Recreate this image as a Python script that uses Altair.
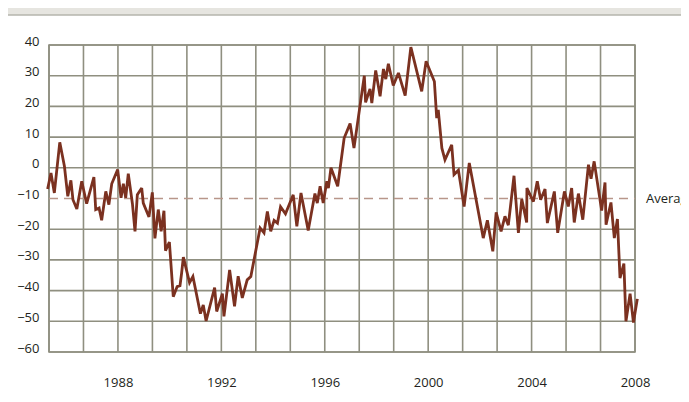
import altair as alt
import pandas as pd

# ---- data ----
years = [1985.28, 1985.41, 1985.54, 1985.75, 1985.93, 1986.06, 1986.18, 1986.26, 1986.41, 1986.60,
         1986.79, 1987.07, 1987.14, 1987.27, 1987.37, 1987.53, 1987.65, 1987.76, 1987.99, 1988.12,
         1988.21, 1988.30, 1988.40, 1988.56, 1988.66, 1988.75, 1988.92, 1988.98, 1989.20, 1989.33,
         1989.43, 1989.56, 1989.67, 1989.78, 1989.84, 1989.99, 1990.14, 1990.29, 1990.40, 1990.46,
         1990.53, 1990.77, 1990.90, 1991.19, 1991.30, 1991.41, 1991.74, 1991.82, 1992.04, 1992.10,
         1992.32, 1992.51, 1992.65, 1992.81, 1993.00, 1993.14, 1993.50, 1993.65, 1993.78, 1993.91,
         1994.04, 1994.17, 1994.29, 1994.48, 1994.78, 1994.92, 1995.08, 1995.36, 1995.62, 1995.71,
         1995.82, 1995.94, 1996.08, 1996.14, 1996.24, 1996.50, 1996.75, 1996.98, 1997.13, 1997.36,
         1997.53, 1997.58, 1997.75, 1997.82, 1997.97, 1998.14, 1998.27, 1998.36, 1998.46, 1998.65,
         1998.85, 1999.11, 1999.33, 1999.75, 1999.92, 2000.24, 2000.33, 2000.39, 2000.53, 2000.65,
         2000.91, 2001.00, 2001.17, 2001.39, 2001.59, 2002.13, 2002.29, 2002.50, 2002.63, 2002.82,
         2002.97, 2003.10, 2003.32, 2003.49, 2003.62, 2003.81, 2003.82, 2004.07, 2004.22, 2004.35,
         2004.52, 2004.61, 2004.88, 2005.01, 2005.27, 2005.42, 2005.55, 2005.65, 2005.81, 2005.98,
         2006.20, 2006.30, 2006.42, 2006.71, 2006.84, 2006.88, 2007.07, 2007.20, 2007.32, 2007.42,
         2007.57, 2007.65, 2007.81, 2007.94, 2008.09]
values = [-6.9, -1.7, -8.2, 8.3, 0.5, -9.3, -4.1, -10.4, -13.4, -4.4,
          -11.7, -3.0, -13.6, -13.1, -17.1, -7.7, -12.0, -5.2, -0.6, -9.8,
          -5.2, -9.8, -1.9, -11.7, -20.7, -8.8, -6.6, -11.5, -16.0, -8.0,
          -23.0, -13.6, -20.7, -14.0, -27.0, -24.2, -42.0, -38.7, -38.4, -34.5,
          -29.1, -37.4, -35.4, -47.5, -44.7, -49.9, -39.0, -46.8, -41.0, -48.4,
          -33.3, -45.1, -35.3, -42.4, -36.5, -35.4, -19.6, -21.2, -14.2, -20.7,
          -17.1, -18.0, -12.7, -15.0, -8.8, -19.1, -8.2, -20.4, -8.4, -11.5,
          -6.0, -11.5, -4.4, -6.6, 0.0, -6.0, 9.7, 14.4, 6.4, 20.0,
          30.0, 21.3, 25.7, 21.1, 31.7, 23.3, 32.2, 28.9, 33.9, 26.8,
          30.9, 23.5, 39.3, 24.9, 34.7, 28.1, 16.2, 18.9, 6.4, 2.6,
          7.5, -2.2, -0.8, -12.6, 1.6, -22.9, -17.1, -27.2, -14.5, -20.7,
          -15.8, -18.7, -2.6, -21.2, -10.2, -17.8, -6.6, -11.0, -4.4, -10.4,
          -6.9, -18.0, -7.7, -21.2, -7.7, -12.6, -6.6, -17.8, -8.4, -16.9,
          1.0, -3.6, 2.1, -13.9, -4.8, -18.5, -11.3, -22.9, -16.7, -35.9,
          -31.2, -50.0, -41.0, -50.4, -42.7]

average_value = -10
average_label = "Average"
x_tick_labels = [1988, 1992, 1996, 2000, 2004, 2008]
y_tick_labels = [-60, -50, -40, -30, -20, -10, 0, 10, 20, 30, 40]
x_grid = [1985 + 1 / 3 + k * 4 / 3 for k in range(18)]
y_grid = [-60, -50, -40, -30, -20, 0, 10, 20, 30, 40]
x_domain = [1985 + 1 / 3, 2008]
y_domain = [-60, 40]

W, H = 586, 307
PAD_L, PAD_T, PAD_R, PAD_B = 41, 37, 46, 42
FONT = "Open Sans"
GRID = "#8f8f80"
LINE = "#7b3120"

df = pd.DataFrame({"year": years, "value": values})
xs = alt.Scale(domain=x_domain, nice=False, zero=False)
ys = alt.Scale(domain=y_domain, nice=False, zero=False)
x_axis = alt.Axis(values=x_tick_labels, format="d", title=None, grid=False, domain=False,
                  ticks=False, labelPadding=24, labelFont=FONT, labelFontSize=13,
                  labelColor="#231f20", labelFlush=False)
y_axis = alt.Axis(values=y_tick_labels, title=None, grid=False, domain=False, ticks=False,
                  labelPadding=10, labelFont=FONT, labelFontSize=13, labelColor="#231f20",
                  labelOffset=-4, labelFlush=False)

# decoration: grey strip above the white panel
strip = alt.Chart(pd.DataFrame({"a": [0]})).mark_rect(color="#e6e5e0").encode(
    x=alt.value(-PAD_L), x2=alt.value(W + PAD_R), y=alt.value(-PAD_T), y2=alt.value(-30))
strip_border = alt.Chart(pd.DataFrame({"a": [0]})).mark_rule(color="#b4b4ac", strokeWidth=1.5).encode(
    x=alt.value(-PAD_L), x2=alt.value(W + PAD_R), y=alt.value(-30))

vgrid = alt.Chart(pd.DataFrame({"year": x_grid})).mark_rule(color=GRID, strokeWidth=1.6).encode(
    x=alt.X("year:Q", scale=xs, axis=x_axis), y=alt.value(0), y2=alt.value(H))
hgrid = alt.Chart(pd.DataFrame({"value": y_grid})).mark_rule(color=GRID, strokeWidth=1.6).encode(
    y=alt.Y("value:Q", scale=ys, axis=y_axis), x=alt.value(0), x2=alt.value(W))

avg = alt.Chart(pd.DataFrame({"value": [average_value]})).mark_rule(
    color="#b8968a", strokeWidth=1.5, strokeDash=[9, 6]).encode(
    y=alt.Y("value:Q", scale=ys, axis=y_axis), x=alt.value(0), x2=alt.value(W))

avg_text = alt.Chart(pd.DataFrame({"value": [average_value], "t": [average_label]})).mark_text(
    align="left", baseline="middle", font=FONT, fontSize=13, color="#231f20").encode(
    y=alt.Y("value:Q", scale=ys, axis=y_axis), x=alt.value(W + 11), text="t:N")

line = alt.Chart(df).mark_line(color=LINE, strokeWidth=2.8, strokeJoin="miter", strokeMiterLimit=3).encode(
    x=alt.X("year:Q", scale=xs, axis=x_axis),
    y=alt.Y("value:Q", scale=ys, axis=y_axis),
)

chart = alt.layer(strip, strip_border, vgrid, hgrid, avg, line, avg_text).properties(
    width=W, height=H,
    padding={"left": PAD_L, "top": PAD_T, "right": PAD_R, "bottom": PAD_B},
    autosize=alt.AutoSizeParams(type="none"),
    background="white",
).configure_view(stroke=GRID, strokeWidth=1.6)

chart.save("out.html", embed_options={"renderer": "svg", "actions": False})
